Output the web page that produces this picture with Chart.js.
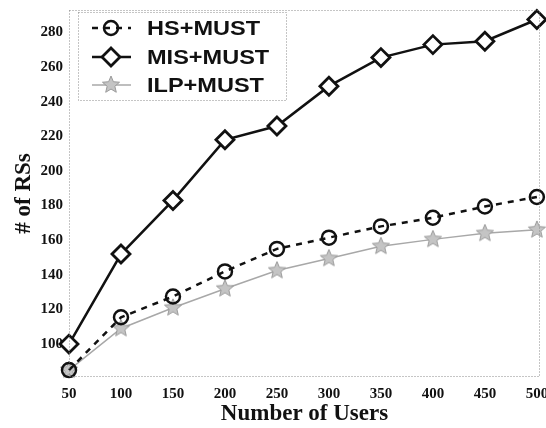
<!DOCTYPE html>
<html>
<head>
<meta charset="utf-8">
<script src="https://cdn.jsdelivr.net/npm/chart.js@4/dist/chart.umd.min.js"></script>
<style>
  html, body { margin: 0; padding: 0; background: #fff; }
  #wrap { width: 546px; height: 428px; }
</style>
</head>
<body>
<div id="wrap"><canvas id="grafico" width="546" height="428"></canvas></div>
<script>
// datos
const usuarios = [50, 100, 150, 200, 250, 300, 350, 400, 450, 500];
const hsMust  = [85, 115.5, 127.5, 142, 155, 161.5, 168, 173, 179.5, 185];
const misMust = [100, 152, 183, 218, 226, 249, 265.5, 273, 275, 287.5];
const ilpMust = [85, 109, 121, 132, 142.5, 149.5, 156.5, 160.5, 164, 166];
const ticksY = [100, 120, 140, 160, 180, 200, 220, 240, 260, 280];
const ticksX = [50, 100, 150, 200, 250, 300, 350, 400, 450, 500];
const nombres = ['HS+MUST', 'MIS+MUST', 'ILP+MUST'];

// estrella de 5 puntas para ILP
function hacerEstrella(r, relleno, borde){
    const c = document.createElement('canvas');
    c.width = r * 2 + 2; c.height = r * 2 + 2;
    const g = c.getContext('2d');
    g.translate(r + 1, r + 1);
    g.beginPath();
    for (let i = 0; i < 10; i++) {
        const rad = i % 2 === 0 ? r : r * 0.45;
        const a = -Math.PI / 2 + i * Math.PI / 5;
        g.lineTo(rad * Math.cos(a), rad * Math.sin(a));
    }
    g.closePath();
    g.fillStyle = relleno; g.fill();
    g.lineWidth = 1; g.strokeStyle = borde; g.stroke();
    return c;
}
const estrella = hacerEstrella(9, '#c4c4c4', '#9a9a9a');

const pares = (ys) => usuarios.map((x, i) => ({ x: x, y: ys[i] }));

const leyenda = {
    id: 'leyenda',
    afterDatasetsDraw(chart){
        const ctx = chart.ctx;
        const area = chart.chartArea;
        ctx.save();
        // marco punteado del area
        ctx.setLineDash([1, 2]);
        ctx.strokeStyle = '#8a8a8a';
        ctx.lineWidth = 1;
        ctx.strokeRect(area.left + 0.5, area.top + 0.5, area.right - area.left - 1, area.bottom - area.top - 1);
        // caja de la leyenda
        ctx.fillStyle = '#fff';
        ctx.fillRect(78, 12, 208, 88);
        ctx.strokeRect(78.5, 12.5, 208, 88);
        ctx.setLineDash([]);
        const filas = [28, 57, 85];
        chart.data.datasets.forEach((ds, i) => {
            const y = filas[i];
            ctx.strokeStyle = ds.borderColor;
            ctx.lineWidth = ds.borderWidth;
            ctx.setLineDash(ds.borderDash || []);
            ctx.beginPath();
            ctx.moveTo(92, y); ctx.lineTo(131, y);
            ctx.stroke();
            ctx.setLineDash([]);
            ctx.lineWidth = ds.pointBorderWidth;
            ctx.fillStyle = ds.pointBackgroundColor;
            ctx.strokeStyle = ds.pointBorderColor;
            Chart.helpers.drawPoint(ctx, {
                pointStyle: ds.pointStyle, radius: ds.pointRadius, borderWidth: ds.pointBorderWidth, rotation: 0
            }, 111, y);
            ctx.save();
            ctx.translate(147, y);
            ctx.scale(1.12, 1);
            ctx.fillStyle = '#111';
            ctx.font = 'bold 21px "Liberation Sans", Arial, sans-serif';
            ctx.textBaseline = 'middle';
            ctx.fillText(nombres[i], 0, 1);
            ctx.restore();
        });
        ctx.restore();
    }
};

const chart = new Chart(document.getElementById('grafico').getContext('2d'), {
    type: 'line',
    data: {
        datasets: [
            {
                label: nombres[0],
                data: pares(hsMust),
                borderColor: '#111',
                borderWidth: 2.5,
                borderDash: [6, 6],
                pointStyle: 'circle',
                pointRadius: 7,
                pointBorderWidth: 2.5,
                pointBorderColor: '#111',
                pointBackgroundColor: 'rgba(255,255,255,0)',
                clip: false,
                order: 2
            },
            {
                label: nombres[1],
                data: pares(misMust),
                borderColor: '#111',
                borderWidth: 2.5,
                pointStyle: 'rectRot',
                pointRadius: 9,
                pointBorderWidth: 2.8,
                pointBorderColor: '#111',
                pointBackgroundColor: '#fff',
                clip: false,
                order: 1
            },
            {
                label: nombres[2],
                data: pares(ilpMust),
                borderColor: '#a8a8a8',
                borderWidth: 1.5,
                pointStyle: estrella,
                pointRadius: 9,
                pointBorderWidth: 1,
                pointBorderColor: '#9a9a9a',
                pointBackgroundColor: '#c4c4c4',
                clip: false,
                order: 3
            }
        ]
    },
    options: {
        responsive: false,
        animation: false,
        layout: { autoPadding: false, padding: { top: 10, right: 6, bottom: 0, left: 0 } },
        plugins: { legend: { display: false }, tooltip: { enabled: false } },
        elements: { line: { tension: 0, fill: false } },
        scales: {
            x: {
                type: 'linear',
                min: 50,
                max: 503,
                afterBuildTicks: (ax) => { ax.ticks = ticksX.map(v => ({ value: v })); },
                afterFit: (ax) => { ax.height = 51; ax.paddingLeft = 0; ax.paddingRight = 0; },
                grid: { display: false, drawTicks: false },
                border: { display: false },
                ticks: {
                    color: '#111',
                    padding: 8,
                    maxRotation: 0,
                    autoSkip: false,
                    font: { family: '"Liberation Serif", "Times New Roman", serif', weight: 'bold', size: 15 }
                },
                title: {
                    display: true,
                    text: 'Number of Users',
                    color: '#111',
                    padding: { top: 0, bottom: 0 },
                    font: { family: '"Liberation Serif", "Times New Roman", serif', weight: 'bold', size: 23 }
                }
            },
            y: {
                min: 81,
                max: 293,
                afterBuildTicks: (ax) => { ax.ticks = ticksY.map(v => ({ value: v })); },
                afterFit: (ax) => { ax.width = 69; ax.paddingTop = 0; ax.paddingBottom = 0; },
                grid: { display: false, drawTicks: false },
                border: { display: false },
                ticks: {
                    color: '#111',
                    padding: 6,
                    font: { family: '"Liberation Serif", "Times New Roman", serif', weight: 'bold', size: 15 }
                },
                title: {
                    display: true,
                    text: '# of RSs',
                    color: '#111',
                    padding: { top: 10, bottom: 0 },
                    font: { family: '"Liberation Serif", "Times New Roman", serif', weight: 'bold', size: 23 }
                }
            }
        }
    },
    plugins: [leyenda]
});
</script>
</body>
</html>
